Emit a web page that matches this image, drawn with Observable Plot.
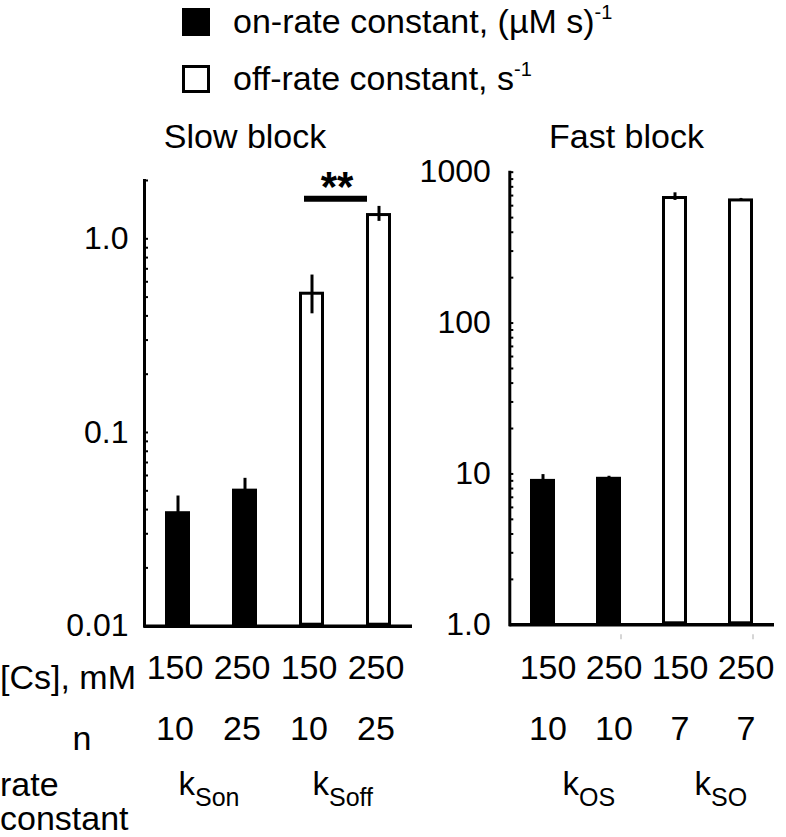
<!DOCTYPE html>
<html>
<head>
<meta charset="utf-8">
<script src="https://cdn.jsdelivr.net/npm/d3@7"></script>
<script src="https://cdn.jsdelivr.net/npm/@observablehq/plot@0.6"></script>
<style>
  body { margin: 0; background: #fff; font-family: "Liberation Sans", Arial, sans-serif; }
  #root { position: relative; width: 786px; height: 837px; overflow: hidden; background: #fff; }
  #root svg { position: absolute; top: 0; overflow: visible; }
  .t { position: absolute; white-space: nowrap; color: #000; font-size: 34px; line-height: 30px; }
  .sup { font-size: 20px; position: relative; top: -14px; }
  .sq { position: absolute; box-sizing: border-box; width: 28px; height: 28px; border: 3px solid #000; }
</style>
</head>
<body>
<div id="root"></div>
<script>
// ---- data ----
const legendLabels = ["on-rate constant, (\u00b5M s)", "off-rate constant, s"];
const legendSups = ["-1", "-1"];
const legendFills = ["#000", "#fff"];
const panelTitles = ["Slow block", "Fast block"];
const rowHeaders = ["[Cs], mM", "n", "rate", "constant"];

const slowCats = ["kSon-150", "kSon-250", "kSoff-150", "kSoff-250"];
const slowValues = [0.039, 0.051, 0.53, 1.35];
const slowErrors = [0.008, 0.007, 0.12, 0.12];
const slowTypes = ["on", "on", "off", "off"];
const slowCs = ["150", "250", "150", "250"];
const slowN = ["10", "25", "10", "25"];
const slowGroupFirst = ["kSon-150", "kSoff-150"];
const slowGroupSub = ["Son", "Soff"];
const slowDomain = [0.01, 2];
const slowMajor = [0.01, 0.1, 1];
const slowMajorLabels = ["0.01", "0.1", "1.0"];
const sigPair = ["kSoff-150", "kSoff-250"];
const sigLevel = 1.61;
const sigLabel = "**";

const fastCats = ["kOS-150", "kOS-250", "kSO-150", "kSO-250"];
const fastValues = [9.2, 9.5, 690, 665];
const fastErrors = [0.7, 0.15, 40, 5];
const fastTypes = ["on", "on", "off", "off"];
const fastCs = ["150", "250", "150", "250"];
const fastN = ["10", "10", "7", "7"];
const fastGroupFirst = ["kOS-150", "kSO-150"];
const fastGroupSub = ["OS", "SO"];
const fastDomain = [1, 1000];
const fastMajor = [1, 10, 100, 1000];
const fastMajorLabels = ["1.0", "10", "100", "1000"];
const fastFaintTicks = ["kOS-250", "kSO-250"];

// ---- drawing ----
const H = 837;
const root = document.getElementById("root");
const FONT = "Liberation Sans, Arial, sans-serif";

function panel(cfg) {
  const data = cfg.cats.map((c, i) => ({cat: c, v: cfg.values[i], e: cfg.errors[i], type: cfg.types[i], cs: cfg.cs[i], n: cfg.n[i]}));
  const groups = cfg.groupFirst.map((f, i) => ({first: f, sub: cfg.groupSub[i]}));
  const lo = cfg.domain[0];
  const frameBottom = H - cfg.mb;
  const minor = d3.scaleLog().domain(cfg.domain).ticks();
  const marks = [
    Plot.barY(data, {x: "cat", y1: lo, y2: "v", fill: d => d.type === "on" ? "#000" : "#fff", stroke: "#000", strokeWidth: 3, inset: 1.5}),
    Plot.ruleX(data, {x: "cat", y1: d => d.v - d.e, y2: d => d.v + d.e, stroke: "#000", strokeWidth: 3}),
    Plot.ruleY([lo], {stroke: "#000", strokeWidth: 3.5}),
    Plot.frame({anchor: "left", stroke: "#000", strokeWidth: 3}),
    Plot.axisY({ticks: minor, tickSize: -4, tickFormat: () => "", strokeWidth: 2, label: null}),
    Plot.axisY({ticks: cfg.major, tickSize: 0, tickPadding: cfg.pad, fontSize: 32,
      tickFormat: d => cfg.majorLabels[cfg.major.indexOf(d)], label: null}),
    Plot.text(data, {x: "cat", text: "cs", frameAnchor: "bottom", dx: cfg.tdx, dy: 678.5 - frameBottom, fontSize: 34}),
    Plot.text(data, {x: "cat", text: "n", frameAnchor: "bottom", dx: cfg.tdx, dy: 739 - frameBottom, fontSize: 34}),
    Plot.text(groups, {x: "first", text: () => "k", frameAnchor: "bottom", textAnchor: "end", dx: cfg.kdx, dy: 794.5 - frameBottom, fontSize: 33}),
    Plot.text(groups, {x: "first", text: "sub", frameAnchor: "bottom", textAnchor: "start", dx: cfg.kdx, dy: 805 - frameBottom, fontSize: 25})
  ];
  if (cfg.extra) marks.push(...cfg.extra);
  return Plot.plot({
    width: cfg.width, height: H,
    marginLeft: cfg.ml, marginRight: cfg.mr, marginTop: cfg.mt, marginBottom: cfg.mb,
    style: {fontFamily: FONT, background: "transparent", color: "#000", overflow: "visible"},
    x: {type: "band", domain: cfg.cats, paddingInner: cfg.pi, paddingOuter: cfg.po, label: null, axis: null},
    y: {type: "log", domain: cfg.domain, label: null},
    color: {type: "identity"},
    marks
  });
}

const slow = panel({
  cats: slowCats, values: slowValues, errors: slowErrors, types: slowTypes, cs: slowCs, n: slowN,
  groupFirst: slowGroupFirst, groupSub: slowGroupSub,
  domain: slowDomain, major: slowMajor, majorLabels: slowMajorLabels,
  width: 412, ml: 144, mr: 0, mt: 180, mb: H - 625.7, pi: 0.627, po: 0.313, pad: 16, kdx: 17, tdx: -3,
  extra: [
    Plot.ruleY([sigLevel], {x1: () => sigPair[0], x2: () => sigPair[1], y: d => d, stroke: "#000", strokeWidth: 6, insetLeft: 5, insetRight: 24}),
    Plot.text([sigLabel], {x: () => sigPair[0], y: () => sigLevel, text: d => d, dx: 25, dy: -11, fontSize: 42, fontWeight: "bold"})
  ]
});
slow.style.left = "0px";
root.appendChild(slow);

const fast = panel({
  cats: fastCats, values: fastValues, errors: fastErrors, types: fastTypes, cs: fastCs, n: fastN,
  groupFirst: fastGroupFirst, groupSub: fastGroupSub,
  domain: fastDomain, major: fastMajor, majorLabels: fastMajorLabels,
  width: 386, ml: 109.3, mr: 12, mt: 171.7, mb: H - 624.3, pi: 0.622, po: 0.302, pad: 19, kdx: 36, tdx: 5,
  extra: [
    Plot.axisX({ticks: fastFaintTicks, tickSize: 5, tickFormat: () => "", dx: 12, dy: 10, stroke: "#c8c8c8", strokeWidth: 1.5, label: null})
  ]
});
fast.style.left = "400px";
root.appendChild(fast);

// ---- HTML text: legend, titles, row headers ----
// with font-size 34px and line-height 30px the baseline sits about 27px below the box top
function addText(html, left, baseline, center) {
  const d = document.createElement("div");
  d.className = "t";
  d.innerHTML = html;
  d.style.left = left + "px";
  d.style.top = (baseline - 27) + "px";
  if (center) d.style.transform = "translateX(-50%)";
  root.appendChild(d);
  return d;
}
legendLabels.forEach((lab, i) => {
  const sq = document.createElement("div");
  sq.className = "sq";
  sq.style.left = "182px";
  sq.style.top = (i === 0 ? 8 : 65) + "px";
  sq.style.background = legendFills[i];
  root.appendChild(sq);
  addText(lab + '<span class="sup">' + legendSups[i] + '</span>', 233, i === 0 ? 33 : 90, false);
});
addText(panelTitles[0], 245, 148, true);
addText(panelTitles[1], 626.5, 148, true);
addText(rowHeaders[0], 0, 689, false);
addText(rowHeaders[1], 82, 750, true);
// two-line header in one block, line-height 34px: first baseline about 28.8px below the top
const rc = addText(rowHeaders[2] + "<br>" + rowHeaders[3], 0, 0, false);
rc.style.lineHeight = "34px";
rc.style.top = "767px";
</script>
</body>
</html>
